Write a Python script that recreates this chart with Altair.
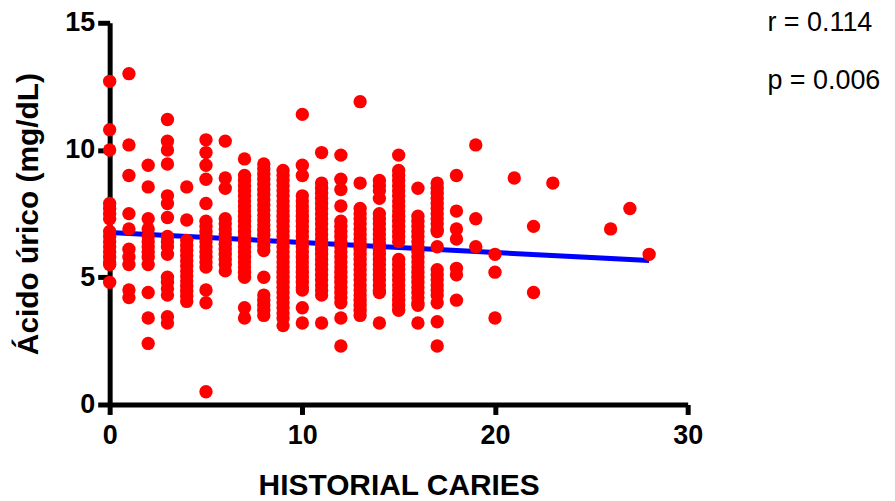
import altair as alt
import pandas as pd

# Uric acid values (mg/dL) read per number of historical caries (x)
c0 = [12.7, 10.8, 10.0, 7.9, 7.7, 7.5, 7.3, 6.8, 6.6, 6.4, 6.2, 6.0, 5.8, 5.6, 5.5, 4.8]
c1 = [13.0, 10.2, 9.0, 7.5, 6.9, 6.1, 5.8, 5.5, 4.5, 4.2]
c2 = [9.4, 8.55, 7.3, 6.9, 6.6, 6.4, 6.2, 6.0, 5.8, 5.5, 4.4, 3.4, 2.4]
c3 = [11.2, 10.35, 10.0, 9.45, 8.2, 7.9, 7.35, 6.6, 6.4, 6.2, 5.9, 5.0, 4.8, 4.55, 4.3, 3.45, 3.2]
c4 = [8.55, 7.25, 6.45, 6.25, 6.05, 5.85, 5.65, 5.45, 5.25, 5.05, 4.85, 4.65, 4.45, 4.25, 4.05]
c5 = [10.4, 9.9, 9.4, 8.85, 7.9, 7.2, 7.0, 6.8, 6.6, 6.4, 6.2, 6.0, 5.8, 5.6, 5.4, 4.5, 4.0, 0.5]
c6 = [10.35, 8.9, 8.5, 7.3, 7.1, 6.9, 6.7, 6.5, 6.3, 6.1, 5.9, 5.7, 5.5, 5.25]
c7 = [9.65, 9.0, 8.8, 8.6, 8.4, 8.2, 8.0, 7.8, 7.6, 7.4, 7.2, 7.0, 6.8, 6.6, 6.4, 6.2,
      6.0, 5.8, 5.6, 5.4, 5.2, 5.0, 3.8, 3.4]
c8 = [9.45, 9.25, 9.05, 8.85, 8.65, 8.45, 8.25, 8.05, 7.85, 7.65, 7.45, 7.25, 7.05, 6.85,
      6.65, 6.45, 6.25, 6.05, 5.0, 4.3, 4.1, 3.9, 3.7, 3.5]
c9 = [9.2, 9.0, 8.8, 8.6, 8.4, 8.2, 8.0, 7.8, 7.6, 7.4, 7.2, 7.0, 6.8, 6.6, 6.4, 6.2, 6.0,
      5.8, 5.6, 5.4, 5.2, 5.0, 4.8, 4.6, 4.4, 4.2, 4.0, 3.8, 3.6, 3.4, 3.1]
c10 = [11.4, 9.4, 9.0, 8.2, 8.0, 7.8, 7.6, 7.4, 7.2, 7.0, 6.8, 6.6, 6.4, 6.2, 6.0, 5.8,
       5.6, 5.4, 5.2, 5.0, 4.8, 4.6, 4.5, 3.8, 3.2]
c11 = [9.9, 8.7, 8.5, 8.3, 8.1, 7.9, 7.7, 7.5, 7.3, 7.1, 6.9, 6.7, 6.5, 6.3, 6.1, 5.9,
       5.7, 5.5, 5.3, 5.1, 4.9, 4.7, 4.5, 4.3, 3.2]
c12 = [9.8, 8.85, 8.45, 7.8, 7.2, 7.0, 6.8, 6.6, 6.4, 6.2, 6.0, 5.8, 5.6, 5.4, 5.2, 5.0,
       4.8, 4.6, 4.4, 4.2, 4.0, 3.4, 2.3]
c13 = [11.9, 8.7, 7.7, 7.5, 7.3, 7.1, 6.9, 6.7, 6.5, 6.3, 6.1, 5.9, 5.7, 5.5, 5.3, 5.1,
       4.9, 4.7, 4.5, 4.3, 4.1, 3.9, 3.7, 3.5]
c14 = [8.8, 8.6, 8.4, 8.1, 7.5, 7.3, 7.1, 6.9, 6.7, 6.5, 6.3, 6.1, 5.9, 5.7, 5.5, 5.3,
       5.1, 4.9, 4.7, 4.5, 4.4, 3.2]
c15 = [9.8, 9.2, 9.0, 8.8, 8.6, 8.4, 8.2, 8.0, 7.8, 7.6, 7.4, 7.2, 7.0, 6.8, 6.6, 6.4,
       5.7, 5.5, 5.3, 5.1, 4.9, 4.7, 4.5, 4.3, 4.1, 3.9, 3.7]
c16 = [8.5, 7.4, 7.2, 7.0, 6.8, 6.6, 6.4, 6.2, 6.0, 5.8, 5.6, 5.4, 5.2, 5.0, 4.8, 4.6,
       4.4, 4.2, 4.0, 3.9, 3.2]
c17 = [8.7, 8.5, 8.3, 8.1, 7.9, 7.7, 7.5, 7.3, 7.1, 6.9, 6.8, 6.2, 5.3, 5.1, 4.9, 4.7,
       4.5, 4.3, 4.0, 3.25, 2.3]
c18 = [9.0, 7.6, 6.9, 6.5, 5.35, 5.1, 4.1]
c19 = [10.2, 7.3, 6.2]
c20 = [5.9, 5.2, 3.4]
c21 = [8.9]
c22 = [7.0, 4.4]
c23 = [8.7]
c26 = [6.9]
c27 = [7.7]
c28 = [5.9]

columns = {0: c0, 1: c1, 2: c2, 3: c3, 4: c4, 5: c5, 6: c6, 7: c7, 8: c8, 9: c9,
           10: c10, 11: c11, 12: c12, 13: c13, 14: c14, 15: c15, 16: c16, 17: c17,
           18: c18, 19: c19, 20: c20, 21: c21, 22: c22, 23: c23, 26: c26, 27: c27,
           28: c28}

# Regression line end points
fit_x = [0, 28]
fit_y = [6.76, 5.66]

stat_r = "r = 0.114"
stat_p = "p = 0.006"

rows = [{"caries": k, "urico": v} for k, vals in columns.items() for v in vals]
points_df = pd.DataFrame(rows)
fit_df = pd.DataFrame({"caries": fit_x, "urico": fit_y})
text_df = pd.DataFrame({"label": [stat_r, stat_p], "row": [0, 1]})

FONT = "Liberation Sans"

x_scale = alt.Scale(domain=[0, 30], nice=False, zero=False)
y_scale = alt.Scale(domain=[0, 15], nice=False, zero=False)

x_axis = alt.Axis(
    title="HISTORIAL CARIES", values=[0, 10, 20, 30], grid=False, labelFlush=False,
    domainColor="black", domainWidth=5, tickColor="black", tickWidth=5, tickSize=10,
    labelFont=FONT, labelFontSize=27, labelFontWeight="bold", labelColor="black",
    labelPadding=8, titleFont=FONT, titleFontSize=30, titleFontWeight="bold",
    titleColor="black", titlePadding=22,
)
y_axis = alt.Axis(
    title="Ácido úrico (mg/dL)", values=[0, 5, 10, 15], grid=False, labelFlush=False,
    domainColor="black", domainWidth=5, tickColor="black", tickWidth=5, tickSize=12,
    labelFont=FONT, labelFontSize=27, labelFontWeight="bold", labelColor="black",
    labelPadding=3, titleFont=FONT, titleFontSize=30, titleFontWeight="bold",
    titleColor="black", titlePadding=21,
)

line = alt.Chart(fit_df).mark_line(color="#0000FF", strokeWidth=5).encode(
    x=alt.X("caries:Q", scale=x_scale, axis=x_axis),
    y=alt.Y("urico:Q", scale=y_scale, axis=y_axis),
)

points = alt.Chart(points_df).mark_circle(
    color="#FF0000", size=180, opacity=1
).encode(
    x=alt.X("caries:Q", scale=x_scale),
    y=alt.Y("urico:Q", scale=y_scale),
)

text_r = alt.Chart(text_df).transform_filter(alt.datum.row == 0).mark_text(
    font=FONT, fontSize=27, color="black", align="left", baseline="middle"
).encode(x=alt.value(660), y=alt.value(0), text="label:N")

text_p = alt.Chart(text_df).transform_filter(alt.datum.row == 1).mark_text(
    font=FONT, fontSize=27, color="black", align="left", baseline="middle"
).encode(x=alt.value(660), y=alt.value(58), text="label:N")

chart = alt.layer(line, points, text_r, text_p).properties(
    width=580, height=383,
    background="white",
    padding={"left": 102, "top": 14, "right": 200, "bottom": 95},
    autosize=alt.AutoSizeParams(type="none"),
).configure_view(stroke="transparent", strokeWidth=0)

chart.save("out.html", embed_options={"renderer": "svg", "actions": False})
